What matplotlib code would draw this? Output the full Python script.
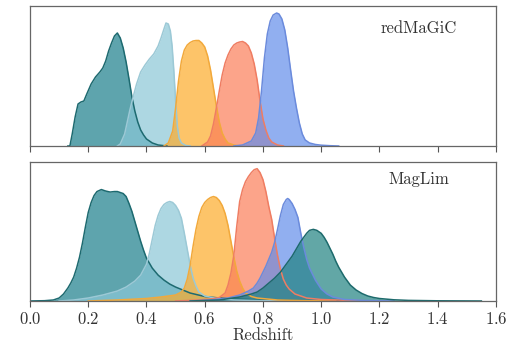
import numpy as np
import matplotlib
matplotlib.use('Agg')
import matplotlib.pyplot as plt

plt.rcParams['font.family'] = 'cmr10'
plt.rcParams['axes.formatter.use_mathtext'] = True

# redMaGiC n(z), 5 tomographic bins
rm_z1 = [0.13, 0.137, 0.145, 0.155, 0.165, 0.175, 0.185, 0.195, 0.21, 0.225, 0.24, 0.25, 0.26, 0.27, 0.28,
         0.29, 0.30, 0.31, 0.32, 0.33, 0.34, 0.35, 0.36, 0.37, 0.38, 0.39, 0.40, 0.42, 0.44, 0.47]
rm_n1 = [0, 0, 12, 29, 42, 44, 45, 52, 62, 69, 74, 78, 85, 95, 103,
         110, 113, 108, 98, 84, 67, 49, 35, 24, 16, 11, 7, 3, 1, 0]

rm_z2 = [0.30, 0.31, 0.325, 0.343, 0.355, 0.366, 0.38, 0.395, 0.41, 0.425, 0.44, 0.45, 0.46, 0.467, 0.475,
         0.482, 0.488, 0.494, 0.50, 0.506, 0.512, 0.52, 0.535, 0.55]
rm_n2 = [0, 2, 12, 36, 50, 62, 74, 81, 87, 92, 100, 108, 117, 123, 122,
         115, 100, 75, 45, 20, 8, 3, 0.5, 0]

rm_z3 = [0.46, 0.475, 0.49, 0.50, 0.51, 0.52, 0.53, 0.54, 0.55, 0.56, 0.57, 0.58, 0.59, 0.60, 0.61,
         0.62, 0.63, 0.64, 0.65, 0.66, 0.67, 0.68, 0.70, 0.72]
rm_n3 = [0, 3, 15, 38, 65, 85, 96, 101, 103.5, 105, 105.5, 105.5, 103, 99, 90,
         76, 58, 40, 24, 13, 7, 3, 1, 0]

rm_z4 = [0.59, 0.61, 0.62, 0.63, 0.64, 0.65, 0.66, 0.67, 0.68, 0.69, 0.70, 0.71, 0.72, 0.73, 0.74,
         0.75, 0.76, 0.77, 0.78, 0.79, 0.80, 0.81, 0.82, 0.83, 0.85, 0.87]
rm_n4 = [0, 4, 10, 22, 38, 55, 71, 83, 91, 97, 101, 103, 104, 104.5, 103,
         100, 93, 82, 66, 45, 27, 16, 8, 4, 1, 0]

rm_z5 = [0.70, 0.73, 0.76, 0.775, 0.785, 0.795, 0.805, 0.815, 0.825, 0.835, 0.847, 0.855, 0.865, 0.875,
         0.885, 0.895, 0.905, 0.915, 0.925, 0.935, 0.945, 0.96, 0.98, 1.0, 1.03, 1.06]
rm_n5 = [0, 1, 5, 13, 28, 55, 88, 112, 125, 131, 133, 132, 127, 116,
         98, 76, 55, 38, 23, 12, 6, 3, 1.5, 0.8, 0.3, 0]

# MagLim n(z), 6 tomographic bins
ml_z1 = [0.0, 0.05, 0.08, 0.10, 0.115, 0.13, 0.14, 0.15, 0.16, 0.17, 0.18, 0.19, 0.20, 0.21, 0.22, 0.23,
         0.245, 0.26, 0.275, 0.29, 0.30, 0.31, 0.32, 0.33, 0.34, 0.35, 0.36, 0.37, 0.38, 0.39, 0.40,
         0.42, 0.44, 0.46, 0.48, 0.50, 0.55, 0.60, 0.65, 0.70, 0.80, 0.90, 1.0, 1.1]
ml_n1 = [0, 0.3, 1, 3, 7, 13, 18, 24, 33, 44, 58, 74, 89, 99, 106, 110,
         112, 110.5, 109.5, 110, 110, 109, 108, 105, 98, 90, 80, 70, 60, 51, 43,
         33, 26, 21, 17, 14, 8, 4.5, 3, 2, 1, 0.5, 0.2, 0]

ml_z2 = [0.10, 0.15, 0.20, 0.25, 0.30, 0.33, 0.36, 0.38, 0.40, 0.41, 0.42, 0.43, 0.44, 0.45, 0.46, 0.47,
         0.48, 0.49, 0.50, 0.51, 0.52, 0.53, 0.54, 0.55, 0.56, 0.57, 0.58, 0.60, 0.65, 0.70, 0.80, 0.90]
ml_n2 = [0, 1, 3, 6, 10, 14, 20, 26, 37, 48, 62, 76, 86, 93, 97, 99,
         100, 99, 96, 91, 83, 68, 52, 36, 23, 15, 9, 5, 2, 1, 0.3, 0]

ml_z3 = [0.20, 0.30, 0.40, 0.45, 0.50, 0.52, 0.53, 0.54, 0.55, 0.56, 0.57, 0.58, 0.59, 0.60, 0.61, 0.62,
         0.63, 0.64, 0.65, 0.66, 0.67, 0.68, 0.69, 0.70, 0.71, 0.72, 0.73, 0.74, 0.76, 0.78, 0.85, 0.95, 1.05]
ml_n3 = [0, 1, 2.5, 4, 6, 9, 13, 22, 36, 55, 72, 85, 94, 99, 102, 104,
         105, 104, 101, 96, 88, 76, 60, 44, 30, 20, 13, 8, 4.5, 3, 1, 0.3, 0]

ml_z4 = [0.50, 0.58, 0.62, 0.65, 0.67, 0.68, 0.69, 0.70, 0.71, 0.72, 0.73, 0.74, 0.75, 0.76, 0.77, 0.78,
         0.79, 0.80, 0.81, 0.82, 0.83, 0.84, 0.85, 0.86, 0.87, 0.88, 0.89, 0.91, 0.95, 1.0, 1.1, 1.2]
ml_n4 = [0, 1, 2, 3.5, 8, 16, 28, 46, 75, 100, 112, 120, 125, 129, 132, 133,
         129, 122, 110, 95, 82, 63, 46, 32, 22, 16, 12, 7, 3, 1.5, 0.5, 0]

ml_z5 = [0.55, 0.62, 0.68, 0.72, 0.75, 0.767, 0.78, 0.79, 0.80, 0.81, 0.82, 0.83, 0.84, 0.85, 0.86, 0.87,
         0.88, 0.885, 0.89, 0.90, 0.91, 0.92, 0.93, 0.94, 0.95, 0.96, 0.98, 1.00, 1.02, 1.04, 1.08, 1.15, 1.25]
ml_n5 = [0, 1, 3, 6, 10, 13, 18, 23, 29, 35, 42, 49, 59, 72, 86, 97,
         102, 103, 102, 98, 92, 84, 68, 54, 42, 33, 21, 12, 7, 4, 1.5, 0.5, 0]

ml_z6 = [0.55, 0.65, 0.72, 0.76, 0.78, 0.80, 0.82, 0.84, 0.86, 0.87, 0.88, 0.89, 0.90, 0.91, 0.92, 0.93,
         0.94, 0.95, 0.96, 0.973, 0.985, 1.00, 1.01, 1.02, 1.03, 1.04, 1.05, 1.06, 1.07, 1.08, 1.09, 1.10,
         1.12, 1.14, 1.16, 1.18, 1.20, 1.25, 1.30, 1.40, 1.55]
ml_n6 = [0, 1, 4, 7, 9, 13, 18, 23, 29, 33, 37, 41, 45, 50, 55, 60,
         64, 68, 71, 72, 71, 68, 64, 59, 53, 47, 40, 34, 29, 24, 20, 16,
         11, 7.5, 5, 3.5, 2.5, 1.2, 0.6, 0.2, 0]

# fill / edge colours per bin
fills = ['#1a7e8a', '#8ac7d7', '#fdab2a', '#fb7e58', '#638dea', '#1f8280']
edges = ['#1d6a70', '#9cc9d6', '#f2a93b', '#ef7d62', '#6b8bdc', '#1d6a6c']

xticks = [0.0, 0.2, 0.4, 0.6, 0.8, 1.0, 1.2, 1.4, 1.6]

redmagic = [(rm_z1, rm_n1), (rm_z2, rm_n2), (rm_z3, rm_n3), (rm_z4, rm_n4), (rm_z5, rm_n5)]
maglim = [(ml_z1, ml_n1), (ml_z2, ml_n2), (ml_z3, ml_n3), (ml_z4, ml_n4), (ml_z5, ml_n5), (ml_z6, ml_n6)]

fig = plt.figure(figsize=(5.12, 3.47), dpi=100)
ax1 = fig.add_axes([0.0586, 0.5793, 0.910, 0.4034])
ax2 = fig.add_axes([0.0586, 0.1326, 0.910, 0.4014])


def draw_bins(ax, bins, label, ylab):
    for i, (z, n) in enumerate(bins):
        ax.fill_between(z, 0, n, color=fills[i], alpha=0.7, lw=0)
        ax.plot(z, n, color=edges[i], lw=1.1)
    ax.set_xlim(0, 1.6)
    ax.set_ylim(0, 140)
    ax.set_yticks([])
    ax.set_xticks(xticks)
    ax.tick_params(axis='x', direction='out', length=4, width=0.8, colors='#555555',
                   labelcolor='#333333', labelsize=12, pad=3)
    for s in ax.spines.values():
        s.set_color('#666666')
        s.set_linewidth(0.9)
    ax.text(0.835, ylab, label, transform=ax.transAxes, ha='center', va='center',
            fontsize=12, color='#333333')


draw_bins(ax1, redmagic, 'redMaGiC', 0.84)
draw_bins(ax2, maglim, 'MagLim', 0.875)
ax1.set_xticklabels([])
ax2.set_xlabel('Redshift', fontsize=12, color='#333333', labelpad=1)

plt.savefig('out.png', dpi=100)
